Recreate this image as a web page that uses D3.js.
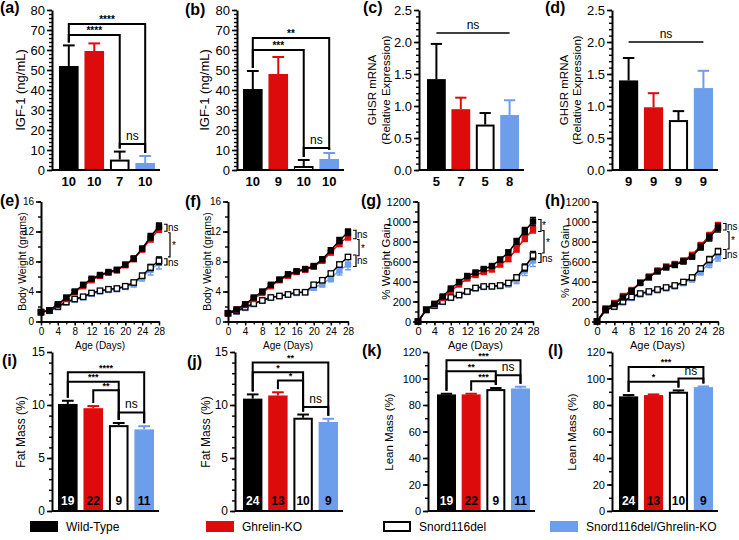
<!DOCTYPE html>
<html><head><meta charset="utf-8">
<script src="https://cdn.jsdelivr.net/npm/d3@7"></script>
<style>body{margin:0;background:#fff}</style>
</head><body><svg id="c" width="739" height="540" xmlns="http://www.w3.org/2000/svg"></svg>
<script>
// ---------------- DATA ----------------
const groups = ["Wild-Type", "Ghrelin-KO", "Snord116del", "Snord116del/Ghrelin-KO"];
const days = [0,2,4,6,8,10,12,14,16,18,20,22,24,26,28];
const dayTicks = [0,4,8,12,16,20,24,28];

// (a) IGF-1
const aMean = [52, 59.5, 5.2, 3.5], aSem = [10.3, 3.8, 4, 3.5], aN = ["10","10","7","10"];
const aSig = [[0,3,73,"****"],[0,2,67.5,"****"],[2,3,13,"ns"]];
// (b) IGF-1
const bMean = [40.5, 48, 2, 5.5], bSem = [9, 8.5, 3, 3], bN = ["10","9","10","10"];
const bSig = [[0,3,66,"**"],[0,2,60,"***"],[2,3,11,"ns"]];
// (c) GHSR mRNA
const cMean = [1.42, 0.95, 0.71, 0.86], cSem = [0.55, 0.18, 0.18, 0.23], cN = ["5","7","5","8"];
const cSig = [[0,3,2.14,"ns"]];
// (d) GHSR mRNA
const dMean = [1.40, 0.98, 0.78, 1.28], dSem = [0.35, 0.22, 0.14, 0.27], dN = ["9","9","9","9"];
const dSig = [[0,3,2.0,"ns"]];

// (e) Body weight (grams)
const eWT  = [1.25,1.5,2.3,3.2,4.0,4.9,5.7,6.2,6.6,6.9,7.6,8.4,9.7,11.3,12.7];
const eGK  = [1.25,1.5,2.2,3.0,3.9,4.7,5.5,6.1,6.5,6.8,7.5,8.3,9.6,11.0,12.3];
const eSD  = [1.25,1.45,2.0,2.6,3.0,3.3,3.8,4.1,4.3,4.4,4.7,5.2,6.1,7.2,8.1];
const eSG  = [1.2,1.4,1.9,2.5,2.9,3.2,3.7,4.0,4.2,4.3,4.6,5.0,5.9,6.9,7.8];
const eWTe = [0.1,0.1,0.15,0.15,0.15,0.15,0.15,0.15,0.15,0.15,0.2,0.3,0.35,0.45,0.45];
const eGKe = [0.1,0.1,0.15,0.15,0.15,0.15,0.15,0.15,0.15,0.15,0.2,0.25,0.3,0.4,0.4];
const eSDe = [0.1,0.1,0.1,0.1,0.1,0.1,0.1,0.1,0.1,0.15,0.2,0.25,0.3,0.4,0.5];
const eSGe = [0.1,0.1,0.1,0.15,0.15,0.15,0.15,0.15,0.2,0.2,0.3,0.4,0.5,0.7,0.8];
const eSig = ["ns","*","ns"];
// (f) Body weight (grams)
const fWT  = [1.1,1.6,2.3,3.2,4.0,4.9,5.6,6.3,6.7,7.0,7.4,8.3,9.5,10.8,11.9];
const fGK  = [1.1,1.6,2.2,3.0,3.8,4.7,5.5,6.1,6.6,6.9,7.3,8.1,9.2,10.4,11.3];
const fSD  = [1.1,1.4,1.9,2.4,2.8,3.2,3.4,3.6,3.9,3.9,4.9,5.5,6.4,7.6,8.6];
const fSG  = [1.1,1.3,1.8,2.3,2.8,3.2,3.4,3.6,3.8,3.9,4.5,5.0,5.8,6.8,7.6];
const fWTe = [0.1,0.1,0.15,0.15,0.15,0.15,0.15,0.15,0.15,0.15,0.2,0.3,0.35,0.4,0.45];
const fGKe = [0.1,0.1,0.15,0.15,0.15,0.15,0.15,0.15,0.15,0.15,0.2,0.25,0.3,0.4,0.45];
const fSDe = [0.1,0.1,0.1,0.1,0.1,0.1,0.1,0.1,0.1,0.15,0.2,0.2,0.25,0.3,0.3];
const fSGe = [0.1,0.1,0.1,0.15,0.15,0.15,0.15,0.15,0.2,0.25,0.3,0.4,0.5,0.6,0.7];
const fSig = ["ns","*","ns"];
// (g) % weight gain
const gWT  = [0,117,177,250,330,395,455,490,525,555,620,690,800,905,1000];
const gGK  = [0,115,170,235,305,370,430,465,495,520,570,625,725,830,920];
const gSD  = [0,117,160,200,240,265,300,335,350,352,360,385,440,540,660];
const gSG  = [0,115,155,195,235,262,295,330,345,348,355,375,420,510,610];
const gWTe = [0,8,10,12,12,14,14,15,15,15,20,25,30,35,40];
const gGKe = [0,8,10,12,12,14,14,15,15,15,20,25,30,30,35];
const gSDe = [0,8,8,8,10,10,10,10,10,12,15,20,25,35,40];
const gSGe = [0,8,8,10,10,12,12,12,15,15,25,30,40,50,60];
const gSig = ["*","*","ns"];
// (h) % weight gain
const hWT  = [0,125,175,240,305,385,440,500,540,565,600,650,745,840,935];
const hGK  = [0,130,185,255,315,390,450,510,550,575,610,665,760,860,960];
const hSD  = [0,115,150,200,245,280,300,320,340,360,395,440,530,620,700];
const hSG  = [0,110,145,190,235,270,290,310,330,350,385,425,500,580,650];
const hWTe = [0,8,10,12,12,14,14,15,15,15,20,25,30,35,40];
const hGKe = [0,8,10,12,12,14,14,15,15,15,20,25,30,30,30];
const hSDe = [0,8,8,8,10,10,10,10,10,12,15,20,25,30,30];
const hSGe = [0,8,8,10,10,12,12,12,15,15,25,30,35,40,45];
const hSig = ["ns","*","ns"];

// (i) Fat mass (%)
const iMean = [10.1, 9.7, 8.1, 7.7], iSem = [0.3, 0.2, 0.2, 0.3], iN = ["19","22","9","11"];
const iSig = [[0,3,13.1,"****"],[0,2,12.2,"***"],[1,2,11.4,"**"],[2,3,9.3,"ns"]];
// (j) Fat mass (%)
const jMean = [10.6, 10.9, 8.8, 8.4], jSem = [0.4, 0.3, 0.3, 0.3], jN = ["24","13","10","9"];
const jSig = [[0,3,14.0,"**"],[0,2,13.1,"*"],[1,2,12.3,"*"],[2,3,9.8,"ns"]];
// (k) Lean mass (%)
const kMean = [88, 88, 92, 92.5], kSem = [0.5, 0.5, 0.8, 1.3], kN = ["19","22","9","11"];
const kSig = [[0,3,113.8,"***"],[0,2,105.5,"**"],[1,2,98,"***"],[2,3,102.5,"ns"]];
// (l) Lean mass (%)
const lMean = [86.5, 87.5, 90, 93.5], lSem = [1, 0.5, 1, 0.5], lN = ["24","13","10","9"];
const lSig = [[0,3,108.7,"***"],[0,2,97.5,"*"],[2,3,100,"ns"]];

// ---------------- STYLE ----------------
const FONT = '"Liberation Sans", Arial, Helvetica, sans-serif';
const FILL = ["#000000", "#dd0b0b", "#ffffff", "#6d9eeb"];
const EDGE = ["#000000", "#dd0b0b", "#000000", "#6d9eeb"];
const svg = d3.select("#c");

function txt(g, x, y, s, size, opts = {}) {
  const t = g.append("text").attr("x", x).attr("y", y).text(s)
    .attr("font-family", FONT).attr("font-size", size).attr("fill", opts.fill || "#000")
    .attr("text-anchor", opts.anchor || "start");
  if (opts.bold) t.attr("font-weight", "bold");
  if (opts.rotate) t.attr("transform", `rotate(-90,${x},${y})`).attr("dominant-baseline", "middle");
  if (opts.mid) t.attr("dominant-baseline", "middle");
  return t;
}

function leftAxis(g, y, ax, major, minor, fmt, fs) {
  const a1 = d3.axisLeft(y).tickValues(minor).tickSize(3).tickSizeOuter(0).tickFormat("");
  const m = g.append("g").attr("transform", `translate(${ax},0)`).call(a1);
  m.select(".domain").remove();
  m.selectAll(".tick line").attr("stroke-width", 1.4);
  const a2 = d3.axisLeft(y).tickValues(major).tickSize(5).tickSizeOuter(0).tickPadding(2).tickFormat(fmt);
  const M = g.append("g").attr("transform", `translate(${ax},0)`).call(a2)
    .attr("font-family", FONT).attr("font-size", fs);
  M.select(".domain").attr("stroke-width", 2);
  M.selectAll(".tick line").attr("stroke-width", 1.6);
  M.selectAll(".tick text").attr("fill", "#000");
}

function barPanel(p) {
  const g = svg.append("g");
  const y = d3.scaleLinear().domain([0, p.ymax]).range([p.y0, p.y1]);
  const x = d3.scaleBand().domain(d3.range(4)).range([p.ax + p.off, p.ax + p.off + p.w]).paddingInner(0.23).paddingOuter(0);
  const bw = x.bandwidth();
  p.sig.forEach(([i, j, lev, lab]) => {
    const xi = x(i) + bw / 2, xj = x(j) + bw / 2, yl = y(lev);
    if (p.noLegs) {
      g.append("line").attr("x1", xi).attr("x2", xj).attr("y1", yl).attr("y2", yl).attr("stroke", "#000").attr("stroke-width", 1.5);
    } else {
      const yi = y(p.mean[i] + p.sem[i]) - 3, yj = y(p.mean[j] + p.sem[j]) - 3;
      g.append("path").attr("d", `M${xi},${yi}V${yl}H${xj}V${yj}`).attr("fill", "none").attr("stroke", "#000").attr("stroke-width", 2);
    }
    const star = lab !== "ns";
    txt(g, (xi + xj) / 2, yl - (star ? 1.5 : 4), lab, star ? p.starFs : p.nsFs, { anchor: "middle", bold: star });
  });
  p.mean.forEach((m, i) => {
    const cx = x(i) + bw / 2, yt = y(m + p.sem[i]);
    g.append("line").attr("x1", cx).attr("x2", cx).attr("y1", y(m)).attr("y2", yt).attr("stroke", EDGE[i]).attr("stroke-width", 2);
    g.append("line").attr("x1", cx - bw * 0.3).attr("x2", cx + bw * 0.3).attr("y1", yt).attr("y2", yt).attr("stroke", EDGE[i]).attr("stroke-width", 2);
  });
  p.mean.forEach((m, i) => {
    const r = g.append("rect").attr("x", x(i)).attr("y", y(m)).attr("width", bw).attr("height", y(0) - y(m)).attr("fill", FILL[i]);
    if (i === 2) r.attr("x", x(i) + 1).attr("width", bw - 2).attr("y", y(m) + 1).attr("height", y(0) - y(m) - 1).attr("stroke", "#000").attr("stroke-width", 2);
  });
  leftAxis(g, y, p.ax, p.major, p.minor, p.fmt, p.tickFs);
  g.append("line").attr("x1", p.ax).attr("x2", p.ax + p.off + p.w + 5).attr("y1", y(0)).attr("y2", y(0)).attr("stroke", "#000").attr("stroke-width", 2);
  p.n.forEach((s, i) => {
    const cx = x(i) + bw / 2;
    if (p.nInside) txt(g, cx, y(0) - 6, s, p.nFs, { anchor: "middle", bold: true, fill: p.nCol[i] });
    else txt(g, cx, y(0) + 16, s, p.nFs, { anchor: "middle", bold: true });
  });
  p.title.forEach((t, k) => txt(g, p.tx[k], p.ty, t, p.titleFs, { anchor: "middle", rotate: true }));
  txt(g, p.lx, p.ly, p.label, 16, { bold: true });
}

function linePanel(p) {
  const g = svg.append("g");
  const x = d3.scaleLinear().domain([0, 28]).range([p.ax, p.xe]);
  const y = d3.scaleLinear().domain([0, p.ymax]).range([p.y0, p.y1]);
  const line = d3.line().x((d, i) => x(days[i])).y(d => y(d));
  const order = [3, 2, 1, 0];
  order.forEach(s => {
    const v = p.series[s], e = p.errs[s];
    const col = EDGE[s];
    v.forEach((m, i) => {
      if (!e[i]) return;
      const cx = x(days[i]);
      g.append("path").attr("d", `M${cx - 3},${y(m + e[i])}H${cx + 3}M${cx},${y(m + e[i])}V${y(m - e[i])}M${cx - 3},${y(m - e[i])}H${cx + 3}`)
        .attr("stroke", col).attr("stroke-width", 1.4).attr("fill", "none");
    });
    g.append("path").datum(v).attr("d", line).attr("fill", "none").attr("stroke", s === 2 ? "#000" : col).attr("stroke-width", 1.5);
    v.forEach((m, i) => {
      const cx = x(days[i]), cy = y(m), sz = 6.4;
      const r = g.append("rect").attr("x", cx - sz / 2).attr("y", cy - sz / 2).attr("width", sz).attr("height", sz);
      if (s === 2) r.attr("fill", "#fff").attr("stroke", "#000").attr("stroke-width", 1.3).attr("x", cx - 2.7).attr("y", cy - 2.7).attr("width", 5.4).attr("height", 5.4);
      else r.attr("fill", FILL[s]);
    });
  });
  leftAxis(g, y, p.ax, p.major, p.minor, d3.format("d"), p.tickFs);
  const ab = d3.axisBottom(x).tickValues(dayTicks).tickSize(4).tickSizeOuter(0).tickPadding(2);
  const B = g.append("g").attr("transform", `translate(0,${p.y0})`).call(ab).attr("font-family", FONT).attr("font-size", p.tickFs);
  B.select(".domain").attr("stroke-width", 2);
  B.selectAll(".tick line").attr("stroke-width", 1.4);
  B.selectAll(".tick text").attr("fill", "#000");
  const mb = d3.axisBottom(x).tickValues(d3.range(0, 29, 2)).tickSize(3).tickFormat("");
  const mm = g.append("g").attr("transform", `translate(0,${p.y0})`).call(mb);
  mm.select(".domain").remove();
  mm.selectAll(".tick line").attr("stroke-width", 1.2);
  txt(g, (p.ax + p.xe) / 2, p.y0 + 27, "Age (Days)", p.tickFs, { anchor: "middle" });
  const L = days.length - 1;
  const xe = p.xe;
  const pair = (a, b) => {
    const ya = y(p.series[a][L]), yb = y(p.series[b][L]);
    return [Math.min(ya, yb) - 2, Math.max(ya, yb) + 2];
  };
  const [t1, t2] = pair(0, 1), [b1, b2] = pair(2, 3);
  [[t1, t2, p.sig[0]], [b1, b2, p.sig[2]]].forEach(([a, b, lab]) => {
    g.append("path").attr("d", `M${xe + 5},${a}H${xe + 8}V${b}H${xe + 5}`).attr("fill", "none").attr("stroke", "#000").attr("stroke-width", 1.2);
    txt(g, xe + 9, (a + b) / 2 + 1, lab, p.sigFs, { mid: true });
  });
  const tm = (t1 + t2) / 2 + 5, bm = (b1 + b2) / 2 - 5;
  g.append("path").attr("d", `M${xe + 9},${tm}H${xe + 11}V${bm}H${xe + 9}`).attr("fill", "none").attr("stroke", "#000").attr("stroke-width", 1.2);
  txt(g, xe + 13, (tm + bm) / 2 + 4, p.sig[1], p.sigFs, { bold: false });
  txt(g, p.tx, (p.y0 + p.y1) / 2, p.title, p.titleFs, { anchor: "middle", rotate: true });
  txt(g, p.lx, p.ly, p.label, 16, { bold: true });
}

// ---------------- PANELS ----------------
const fmtInt = d3.format("d"), fmt1 = d3.format(".1f");
const row1 = { y0: 170, y1: 10, nFs: 13, starFs: 10, nsFs: 12 };
barPanel({ ...row1, label: "(a)", lx: 0, ly: 13, ax: 52, off: 7, w: 96, ymax: 80, major: d3.range(0, 81, 10), minor: d3.range(0, 81, 2), fmt: fmtInt, tickFs: 13,
  mean: aMean, sem: aSem, n: aN, sig: aSig, title: ["IGF-1 (ng/mL)"], tx: [22], ty: 90, titleFs: 13 });
barPanel({ ...row1, label: "(b)", lx: 185, ly: 15, ax: 237, off: 6, w: 96, ymax: 80, major: d3.range(0, 81, 10), minor: d3.range(0, 81, 2), fmt: fmtInt, tickFs: 13,
  mean: bMean, sem: bSem, n: bN, sig: bSig, title: ["IGF-1 (ng/mL)"], tx: [206], ty: 90, titleFs: 13 });
barPanel({ ...row1, label: "(c)", lx: 363, ly: 13, ax: 419, off: 8, w: 92, ymax: 2.5, major: d3.range(0, 2.51, 0.5), minor: d3.range(0, 2.51, 0.1), fmt: fmt1, tickFs: 13,
  mean: cMean, sem: cSem, n: cN, sig: cSig, noLegs: true, title: ["GHSR mRNA", "(Relative Expression)"], tx: [373, 387], ty: 90, titleFs: 11.5 });
barPanel({ ...row1, label: "(d)", lx: 545, ly: 13, ax: 612, off: 7, w: 94, ymax: 2.5, major: d3.range(0, 2.51, 0.5), minor: d3.range(0, 2.51, 0.1), fmt: fmt1, tickFs: 13,
  mean: dMean, sem: dSem, n: dN, sig: dSig, noLegs: true, title: ["GHSR mRNA", "(Relative Expression)"], tx: [565, 578], ty: 90, titleFs: 11.5 });

const lineCommon = { y0: 321.5, y1: 201.5 };
linePanel({ ...lineCommon, label: "(e)", lx: 0, ly: 206, ax: 41, xe: 159, ymax: 16, major: [0,4,8,12,16], minor: d3.range(0, 17, 2), tickFs: 10, sigFs: 10,
  series: [eWT, eGK, eSD, eSG], errs: [eWTe, eGKe, eSDe, eSGe], sig: eSig, title: "Body Weight (grams)", tx: 23, titleFs: 10.5 });
linePanel({ ...lineCommon, label: "(f)", lx: 185, ly: 207, ax: 228, xe: 348, ymax: 16, major: [0,4,8,12,16], minor: d3.range(0, 17, 2), tickFs: 10, sigFs: 10,
  series: [fWT, fGK, fSD, fSG], errs: [fWTe, fGKe, fSDe, fSGe], sig: fSig, title: "Body Weight (grams)", tx: 208, titleFs: 10.5 });
linePanel({ ...lineCommon, label: "(g)", lx: 361, ly: 206, ax: 418, xe: 533, ymax: 1200, major: d3.range(0, 1201, 200), minor: d3.range(0, 1201, 100), tickFs: 11, sigFs: 10,
  series: [gWT, gGK, gSD, gSG], errs: [gWTe, gGKe, gSDe, gSGe], sig: gSig, title: "% Weight Gain", tx: 387, titleFs: 11.5 });
linePanel({ ...lineCommon, label: "(h)", lx: 545, ly: 206, ax: 597, xe: 718, ymax: 1200, major: d3.range(0, 1201, 200), minor: d3.range(0, 1201, 100), tickFs: 11, sigFs: 10,
  series: [hWT, hGK, hSD, hSG], errs: [hWTe, hGKe, hSDe, hSGe], sig: hSig, title: "% Weight Gain", tx: 566, titleFs: 11 });

const row3 = { y0: 511, y1: 352, nInside: true, nFs: 12, starFs: 9, nsFs: 12, nCol: ["#fff", "#000", "#000", "#000"] };
barPanel({ ...row3, label: "(i)", lx: 2, ly: 366, ax: 52, off: 6, w: 96, ymax: 15, major: [0,5,10,15], minor: d3.range(0, 16, 1), fmt: fmtInt, tickFs: 12,
  mean: iMean, sem: iSem, n: iN, sig: iSig, title: ["Fat Mass (%)"], tx: [22], ty: 432, titleFs: 12 });
barPanel({ ...row3, label: "(j)", lx: 187, ly: 367, ax: 235, off: 8, w: 95, ymax: 15, major: [0,5,10,15], minor: d3.range(0, 16, 1), fmt: fmtInt, tickFs: 12,
  mean: jMean, sem: jSem, n: jN, sig: jSig, title: ["Fat Mass (%)"], tx: [207], ty: 432, titleFs: 12 });
barPanel({ ...row3, label: "(k)", lx: 362, ly: 356, ax: 428, off: 9, w: 93, ymax: 120, major: d3.range(0, 121, 20), minor: d3.range(0, 121, 10), fmt: fmtInt, tickFs: 11,
  mean: kMean, sem: kSem, n: kN, sig: kSig, title: ["Lean Mass (%)"], tx: [390], ty: 432, titleFs: 11.5 });
barPanel({ ...row3, label: "(l)", lx: 548, ly: 356, ax: 612, off: 7, w: 94, ymax: 120, major: d3.range(0, 121, 20), minor: d3.range(0, 121, 10), fmt: fmtInt, tickFs: 11,
  mean: lMean, sem: lSem, n: lN, sig: lSig, title: ["Lean Mass (%)"], tx: [573], ty: 432, titleFs: 11.5 });

// ---------------- LEGEND ----------------
const legX = [30, 206, 383, 550];
const lg = svg.append("g");
groups.forEach((name, i) => {
  const r = lg.append("rect").attr("x", legX[i]).attr("y", 521).attr("width", 28).attr("height", 11).attr("fill", FILL[i]);
  if (i === 2) r.attr("stroke", "#000").attr("stroke-width", 2).attr("x", legX[i] + 1).attr("y", 522).attr("width", 26).attr("height", 9);
  txt(lg, legX[i] + 36, 531, name, 12);
});
</script></body></html>
